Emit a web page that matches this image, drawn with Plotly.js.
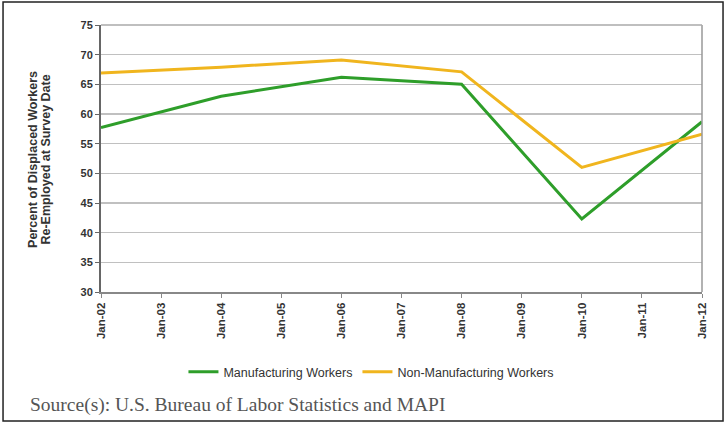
<!DOCTYPE html>
<html>
<head>
<meta charset="utf-8">
<script src="https://cdn.plot.ly/plotly-3.0.1.min.js"></script>
<style>html,body{margin:0;padding:0;background:#fff;}#chart{width:727px;height:424px;}</style>
</head>
<body>
<div id="chart"></div>
<script>
const categories = ["Jan-02","Jan-03","Jan-04","Jan-05","Jan-06","Jan-07","Jan-08","Jan-09","Jan-10","Jan-11","Jan-12"];
const surveyDates = ["Jan-02","Jan-04","Jan-06","Jan-08","Jan-10","Jan-12"];
const manufacturing = [57.7, 63.0, 66.2, 65.0, 42.3, 58.7];
const nonManufacturing = [66.9, 67.9, 69.1, 67.1, 51.0, 56.6];
const yTicks = [30,35,40,45,50,55,60,65,70,75];

const traces = [
  {x: surveyDates, y: manufacturing, type: "scatter", mode: "lines", name: "Manufacturing Workers",
   line: {color: "#2e9e2a", width: 3}},
  {x: surveyDates, y: nonManufacturing, type: "scatter", mode: "lines", name: "Non-Manufacturing Workers",
   line: {color: "#f0b51e", width: 3}}
];

const boldFont = {size: 11, color: "#333", family: "Liberation Sans, Arial, sans-serif", weight: "bold"};

const layout = {
  width: 727, height: 424,
  margin: {l: 101, r: 25, t: 25, b: 132},
  paper_bgcolor: "#ffffff", plot_bgcolor: "#ffffff",
  font: {family: "Liberation Sans, Arial, sans-serif", color: "#333"},
  showlegend: true,
  legend: {orientation: "h", x: 0.45, xanchor: "center", y: -0.30, yanchor: "middle",
    font: {size: 12.5, color: "#333"}, itemwidth: 30, tracegroupgap: 0},
  xaxis: {type: "category", categoryorder: "array", categoryarray: categories,
    range: [0, categories.length - 1], tickangle: -90,
    tickfont: Object.assign({}, boldFont, {size: 11.5}),
    showgrid: false, showline: true, linecolor: "#888", linewidth: 2,
    ticks: "outside", ticklen: 4, tickcolor: "#888", mirror: false, zeroline: false},
  yaxis: {range: [30, 75], tickvals: yTicks, ticktext: yTicks.map(String),
    tickfont: boldFont,
    showgrid: true, gridcolor: "#c0c0c0", gridwidth: 1.5,
    showline: true, linecolor: "#666", linewidth: 2, ticks: "outside", ticklen: 4, tickcolor: "#666",
    zeroline: false},
  shapes: [
    {type: "line", xref: "paper", yref: "paper", x0: 1.0, x1: 1.0, y0: 0, y1: 1,
     line: {color: "#999", width: 1.5}},
    {type: "line", xref: "paper", yref: "paper", x0: 0, x1: 1, y0: 1, y1: 1,
     line: {color: "#aaa", width: 1.5}},
    {type: "rect", xref: "paper", yref: "paper", x0: -0.163, x1: 1.035, y0: -0.483, y1: 1.086,
     line: {color: "#222", width: 1.5}}
  ],
  annotations: [
    {text: "<b>Percent of Displaced Workers</b>", xref: "paper", yref: "paper",
     x: -0.113, y: 0.495, xanchor: "center", yanchor: "middle", textangle: -90, showarrow: false,
     font: {size: 12.5, color: "#333"}},
    {text: "<b>Re-Employed at Survey Date</b>", xref: "paper", yref: "paper",
     x: -0.092, y: 0.495, xanchor: "center", yanchor: "middle", textangle: -90, showarrow: false,
     font: {size: 12.5, color: "#333"}},
    {text: "Source(s): U.S. Bureau of Labor Statistics and MAPI", xref: "paper", yref: "paper",
     x: -0.121, y: -0.423, xanchor: "left", yanchor: "middle", showarrow: false,
     font: {size: 19.5, color: "#555", family: "Liberation Serif, DejaVu Serif, serif"}}
  ]
};

Plotly.newPlot("chart", traces, layout, {displayModeBar: false, staticPlot: true});
</script>
</body>
</html>
